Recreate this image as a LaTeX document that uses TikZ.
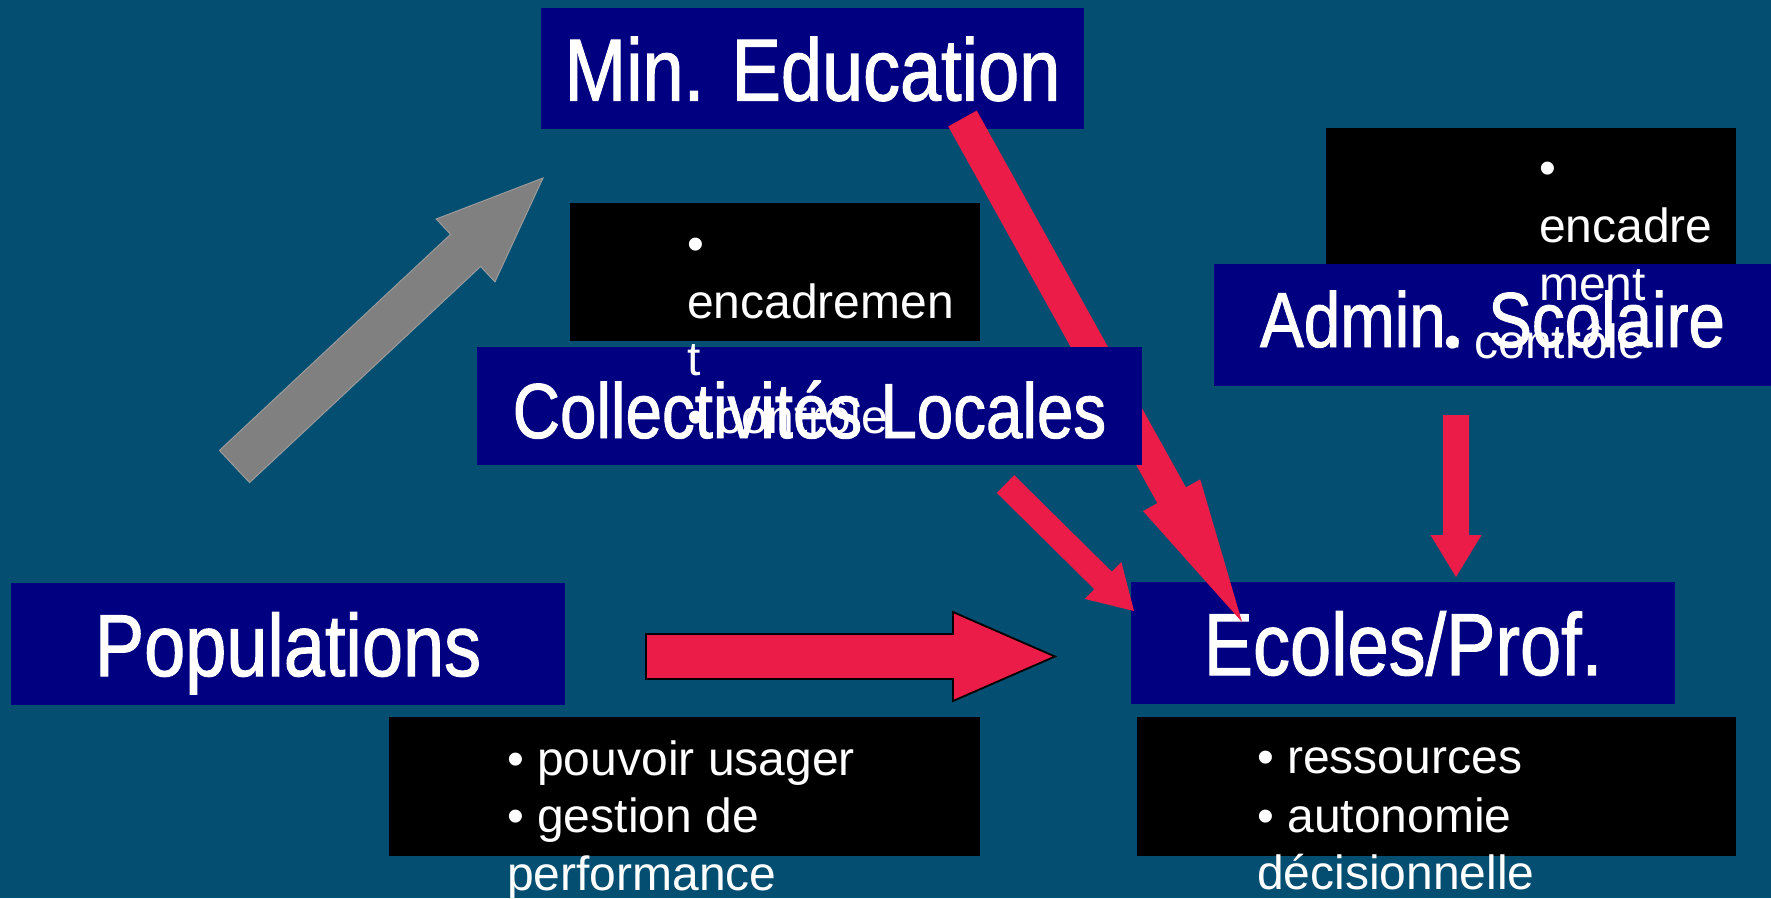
\documentclass[tikz,border=0pt]{standalone}
\usepackage{fontspec}
\setmainfont{Liberation Sans}
\newfontfamily\titlefont[FakeStretch=0.84,FakeBold=1.2]{Liberation Sans}
\usetikzlibrary{calc}
\definecolor{bgc}{RGB}{3,78,113}
\definecolor{navyc}{RGB}{0,0,128}
\definecolor{redc}{RGB}{236,28,72}
\definecolor{grayc}{RGB}{128,128,128}
\definecolor{grayedge}{RGB}{155,155,155}
% block arrow: [style]{tail}{tip}{half shaft}{half head}{head length}
\newcommand{\BlkArrow}[6][]{%
  \coordinate (ba-n) at ($(#3)!#6!(#2)$);
  \filldraw[#1] ($(#2)!#4!90:(#3)$) -- ($(ba-n)!#4!90:(#3)$) -- ($(ba-n)!#5!90:(#3)$)
    -- (#3) -- ($(ba-n)!#5!-90:(#3)$) -- ($(ba-n)!#4!-90:(#3)$) -- ($(#2)!#4!-90:(#3)$) -- cycle;}
\tikzset{
  titlebox/.style={fill=navyc, text=white, inner sep=0pt, text height=64pt, text depth=0pt,
    font=\titlefont\fontsize{88}{100}\selectfont},
  smalltitle/.style={font=\titlefont\fontsize{78}{90}\selectfont},
  blackbox/.style={fill=black, inner sep=0pt},
  bullettext/.style={text=white, inner sep=0pt, anchor=base west, font=\fontsize{48}{58}\selectfont},
  redarrow/.style={fill=redc, draw=none},
  grayarrow/.style={fill=grayc, draw=grayedge, line width=1pt, line join=miter},
  outlinedarrow/.style={fill=redc, draw=black, line width=1.8pt, line join=miter},
}
\begin{document}
\begin{tikzpicture}[x=1pt,y=-1pt]
\useasboundingbox (0,0) rectangle (1771,898);
\fill[bgc] (0,0) rectangle (1771,898);

% black text panels
\node[blackbox, minimum width=410pt, minimum height=138pt] (b1) at (775,272) {};
\node[blackbox, minimum width=410pt, minimum height=137pt] (b2) at (1531,196.5) {};
\node[blackbox, minimum width=591pt, minimum height=139pt] (b3) at (684.5,786.5) {};
\node[blackbox, minimum width=599pt, minimum height=139pt] (b4) at (1436.5,786.5) {};

% blue title boxes
\node[titlebox, minimum width=543pt, minimum height=121pt] (mined) at (812.5,68.5) {Min. Education};
\node[titlebox, smalltitle, minimum width=557pt, minimum height=122pt, text height=56pt, text depth=12pt] (admin) at (1492.5,325) {Admin. Scolaire};
\node[titlebox, minimum width=554pt, minimum height=122pt] (pop) at (288,644) {Populations};
\node[titlebox, minimum width=544pt, minimum height=122pt] (ecoles) at (1403,643) {Ecoles/Prof.};

% arrow end points
\coordinate (ga-s) at (234.5,466.5);
\coordinate (ga-e) at (543,178);
\coordinate (ha-s) at (646,656.5);
\coordinate (ha-e) at (1055,656.5);
\coordinate (da-s) at (1456,415);
\coordinate (da-e) at (1456,577);
\coordinate (ca-s) at (1005.5,484);
\coordinate (ca-e) at (1134,611);
\coordinate (ma-s) at (962.5,118.5);
\coordinate (ma-e) at (1242,622);

\BlkArrow[grayarrow]{ga-s}{ga-e}{22pt}{43pt}{106pt}
\BlkArrow[outlinedarrow]{ha-s}{ha-e}{22.5pt}{44.5pt}{102pt}
\BlkArrow[redarrow]{da-s}{da-e}{13pt}{25.5pt}{42pt}
\BlkArrow[redarrow]{ca-s}{ca-e}{12.4pt}{26pt}{43.5pt}
\BlkArrow[redarrow]{ma-s}{ma-e}{16.3pt}{32.7pt}{145pt}

\node[titlebox, smalltitle, minimum width=665pt, minimum height=118pt] (coll) at (809.5,406) {Collectivités Locales};

% bullet texts
\node[bullettext] (b1a) at (687,260) {•};
\node[bullettext] (b1b) at (687,318) {encadremen};
\node[bullettext] (b1c) at (687,375) {t};
\node[bullettext] (b1d) at (687,433) {• contrôle};

\node[bullettext] (b2a) at (1539,184) {•};
\node[bullettext] (b2b) at (1539,242) {encadre};
\node[bullettext] (b2c) at (1539,300) {ment};
\node[bullettext] (b2d) at (1444,358) {• contrôle};

\node[bullettext] (b3a) at (507,775) {• pouvoir usager};
\node[bullettext] (b3b) at (507,832) {• gestion de};
\node[bullettext] (b3c) at (507,890) {performance};

\node[bullettext] (b4a) at (1257,773) {• ressources};
\node[bullettext] (b4b) at (1257,832) {• autonomie};
\node[bullettext] (b4c) at (1257,889) {décisionnelle};
\end{tikzpicture}
\end{document}
